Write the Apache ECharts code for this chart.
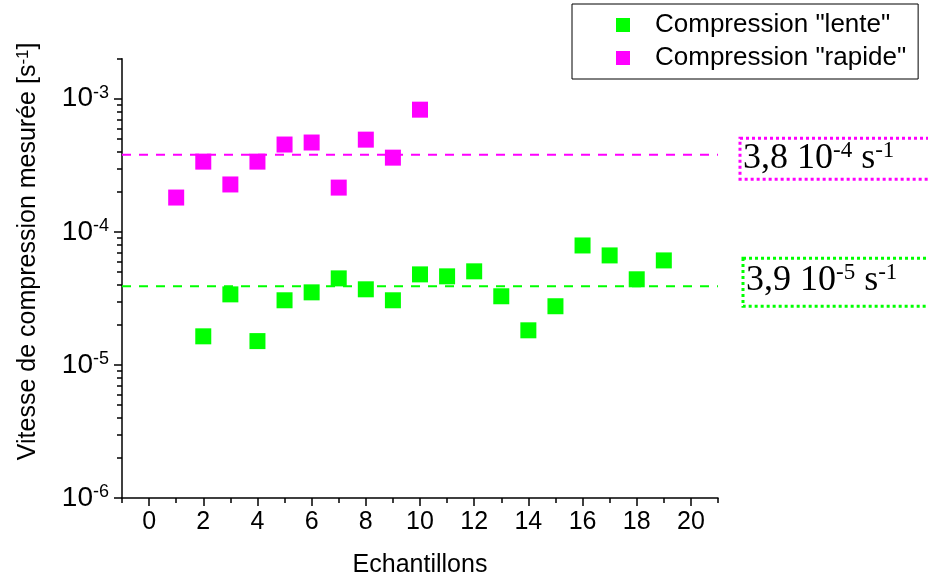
<!DOCTYPE html>
<html>
<head>
<meta charset="utf-8">
<script src="https://cdn.jsdelivr.net/npm/echarts@6/dist/echarts.min.js"></script>
<style>html,body{margin:0;padding:0;background:#fff}#c{width:928px;height:583px}</style>
</head>
<body>
<div id="c"></div>
<script>
const seriesNames = ['Compression "lente"', 'Compression "rapide"'];
const xLente = [2, 3, 4, 5, 6, 7, 8, 9, 10, 11, 12, 13, 14, 15, 16, 17, 18, 19];
const lente = [1.64e-5, 3.39e-5, 1.51e-5, 3.06e-5, 3.51e-5, 4.47e-5, 3.7e-5, 3.06e-5, 4.79e-5, 4.63e-5, 5.05e-5, 3.28e-5, 1.82e-5, 2.76e-5, 7.9e-5, 6.65e-5, 4.4e-5, 6.1e-5];
const xRapide = [1, 2, 3, 4, 5, 6, 7, 8, 9, 10];
const rapide = [1.81e-4, 3.37e-4, 2.27e-4, 3.37e-4, 4.53e-4, 4.69e-4, 2.15e-4, 4.93e-4, 3.61e-4, 8.28e-4];
const meanLente = 3.9e-5;
const meanRapide = 3.8e-4;
const meanSpan = [-1, 21];
const xMajorTicks = [0, 2, 4, 6, 8, 10, 12, 14, 16, 18, 20];
const xMinorTicks = [-1, 1, 3, 5, 7, 9, 11, 13, 15, 17, 19, 21];
const yMajorTicks = [1e-6, 1e-5, 1e-4, 1e-3];
const yMinorTicks = [2e-6,3e-6,4e-6,5e-6,6e-6,7e-6,8e-6,9e-6,2e-5,3e-5,4e-5,5e-5,6e-5,7e-5,8e-5,9e-5,2e-4,3e-4,4e-4,5e-4,6e-4,7e-4,8e-4,9e-4,2e-3];

const GREEN = '#00ff00', MAGENTA = '#ff00ff';
const SANS = 'Liberation Sans, Arial, sans-serif';
const SERIF = 'Liberation Serif, Times New Roman, serif';
const chart = echarts.init(document.getElementById('c'), null, {renderer: 'canvas'});
const grid = {left: 122, right: 210, top: 58.7, bottom: 83};
const xBase = {type: 'value', min: -1, max: 21, interval: 1, gridIndex: 0, position: 'bottom',
  splitLine: {show: false}};
const yBase = {type: 'log', logBase: 10, min: 1e-6, max: 2e-3, gridIndex: 0, position: 'left',
  splitLine: {show: false}, minorTick: {show: false}};

function meanLabel(text, color, offsetY, distance, padding) {
  return {
    show: true, distance: distance, offset: [0, offsetY],
    formatter: text,
    borderColor: color, borderWidth: 3, borderType: 'dotted',
    padding: padding,
    rich: {
      n: {fontSize: 36, color: '#000', fontFamily: SERIF},
      s: {fontSize: 23, color: '#000', fontFamily: SERIF, verticalAlign: 'top', padding: [0, 0, 15, 0]}
    }
  };
}

chart.setOption({
  animation: false,
  textStyle: {fontFamily: SANS},
  grid: grid,
  legend: {
    orient: 'vertical', left: 572, top: 4,
    borderColor: '#000', borderWidth: 1,
    padding: [8, 12, 8, 44], itemGap: 7,
    itemWidth: 14, itemHeight: 14, icon: 'rect',
    textStyle: {fontSize: 26, color: '#000', padding: [0, 0, 0, 20], fontFamily: SANS},
    data: seriesNames
  },
  xAxis: [
    Object.assign({}, xBase, {
      name: 'Echantillons', nameLocation: 'middle', nameGap: 55,
      nameTextStyle: {fontSize: 25, color: '#000', fontFamily: SANS},
      axisLine: {show: true, onZero: false, lineStyle: {color: '#000', width: 1.5}},
      axisTick: {show: true, customValues: xMajorTicks, length: 8, lineStyle: {color: '#000', width: 1.5}},
      axisLabel: {show: true, customValues: xMajorTicks, fontSize: 25, color: '#000', margin: 12, fontFamily: SANS}
    }),
    Object.assign({}, xBase, {
      axisLine: {show: false, onZero: false},
      axisTick: {show: true, customValues: xMinorTicks, length: 5, lineStyle: {color: '#000', width: 1.5}},
      axisLabel: {show: false}
    })
  ],
  yAxis: [
    Object.assign({}, yBase, {
      name: '{t|Vitesse de compression mesurée [s}{s|-1}{t|]}',
      nameLocation: 'middle', nameGap: 80, nameRotate: 90,
      nameTextStyle: {padding: [0, 0, 0, 54], rich: {
        t: {fontSize: 25, color: '#000', fontFamily: SANS},
        s: {fontSize: 17, color: '#000', verticalAlign: 'top', padding: [0, 0, 10, 0], fontFamily: SANS}
      }},
      axisLine: {show: true, onZero: false, lineStyle: {color: '#000', width: 1.5}},
      axisTick: {show: true, customValues: yMajorTicks, length: 8, lineStyle: {color: '#000', width: 1.5}},
      axisLabel: {show: true, customValues: yMajorTicks, margin: 13,
        formatter: function (v) {
          const e = Math.round(Math.log10(v));
          return '{b|10}{s|' + e + '}';
        },
        rich: {
          b: {fontSize: 28, color: '#000', fontFamily: SANS},
          s: {fontSize: 18, color: '#000', verticalAlign: 'top', padding: [0, 0, 12, 0], fontFamily: SANS}
        }
      }
    }),
    Object.assign({}, yBase, {
      axisLine: {show: false, onZero: false},
      axisTick: {show: true, customValues: yMinorTicks, length: 5, lineStyle: {color: '#000', width: 1.5}},
      axisLabel: {show: false}
    })
  ],
  series: [
    {
      name: 'mean-lente', type: 'line', xAxisIndex: 0, yAxisIndex: 0,
      data: meanSpan.map(x => [x, meanLente]),
      showSymbol: false, symbol: 'none', silent: true, z: 2,
      lineStyle: {color: GREEN, type: [9, 8], width: 2},
      endLabel: meanLabel('{n|3,9 10}{s|-5}{n| s}{s|-1}', GREEN, -4, 25, [3, 60, 7, 3])
    },
    {
      name: 'mean-rapide', type: 'line', xAxisIndex: 0, yAxisIndex: 0,
      data: meanSpan.map(x => [x, meanRapide]),
      showSymbol: false, symbol: 'none', silent: true, z: 2,
      lineStyle: {color: MAGENTA, type: [9, 8], width: 2},
      endLabel: meanLabel('{n|3,8 10}{s|-4}{n| s}{s|-1}', MAGENTA, 4, 22, [1, 60, 2, 3])
    },
    {
      name: seriesNames[0], type: 'scatter', xAxisIndex: 0, yAxisIndex: 0,
      symbol: 'rect', symbolSize: 16, itemStyle: {color: GREEN, opacity: 1},
      data: xLente.map((x, i) => [x, lente[i]]),
      z: 3
    },
    {
      name: seriesNames[1], type: 'scatter', xAxisIndex: 0, yAxisIndex: 0,
      symbol: 'rect', symbolSize: 16, itemStyle: {color: MAGENTA, opacity: 1},
      data: xRapide.map((x, i) => [x, rapide[i]]),
      z: 3
    }
  ]
});
</script>
</body>
</html>
